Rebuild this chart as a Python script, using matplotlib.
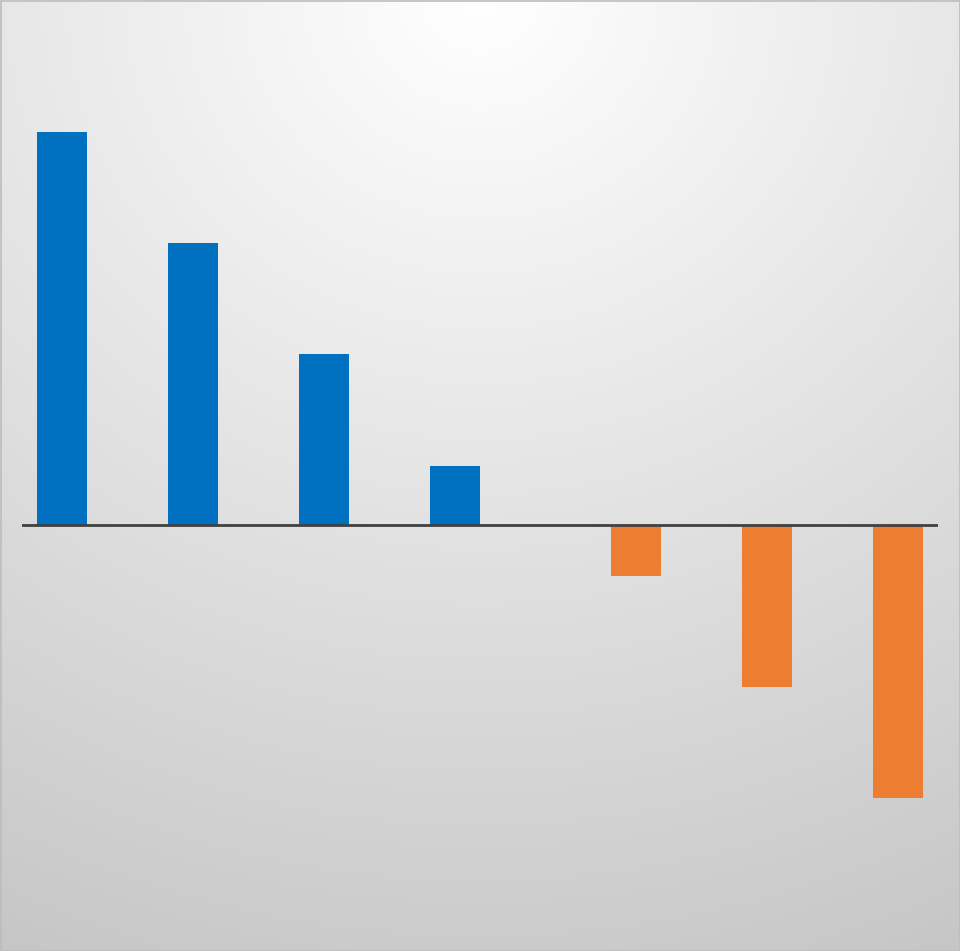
import numpy as np
import matplotlib
matplotlib.use("Agg")
import matplotlib.pyplot as plt

categories = ["A", "B", "C", "D", "E", "F", "G"]
positive = [35.4, 25.4, 15.4, 5.3, 0, 0, 0]
negative = [0, 0, 0, 0, -4.6, -14.6, -24.6]

W, H = 960, 951
fig = plt.figure(figsize=(W / 100, H / 100), dpi=100)

# background radial gradient
bg = fig.add_axes([0, 0, 1, 1])
yy, xx = np.mgrid[0:H, 0:W]
d = np.sqrt(((xx - 480) / 1.08) ** 2 + (yy * 1.0) ** 2) / 1066.0
g = 255 - 58 * np.clip(d, 0, 1.2)
img = np.dstack([g, g, g]).astype(np.uint8)
bg.imshow(img, aspect="auto", extent=[0, W, H, 0])
bg.set_xlim(0, W)
bg.set_ylim(H, 0)
bg.axis("off")
bg.add_patch(plt.Rectangle((0.5, 0.5), W - 1, H - 1, fill=False, edgecolor="#bdbdbd", lw=1.2))

ax = fig.add_axes([22 / W, 0, (938 - 22) / W, 1])
ax.set_facecolor("none")
x = np.arange(len(categories))
w = 50 / 131
ax.bar(x - w / 2, positive, width=w, color="#0070C0")
ax.bar(x + w / 2, negative, width=w, color="#ED7D31")
ax.set_xlim(-(87 - 22) / 131, 6 + (938 - 873) / 131)
ax.set_ylim(-426 / 11.1, 525 / 11.1)
ax.axhline(0, color="#404040", lw=2)
ax.axis("off")

fig.savefig("out.png", dpi=100)
